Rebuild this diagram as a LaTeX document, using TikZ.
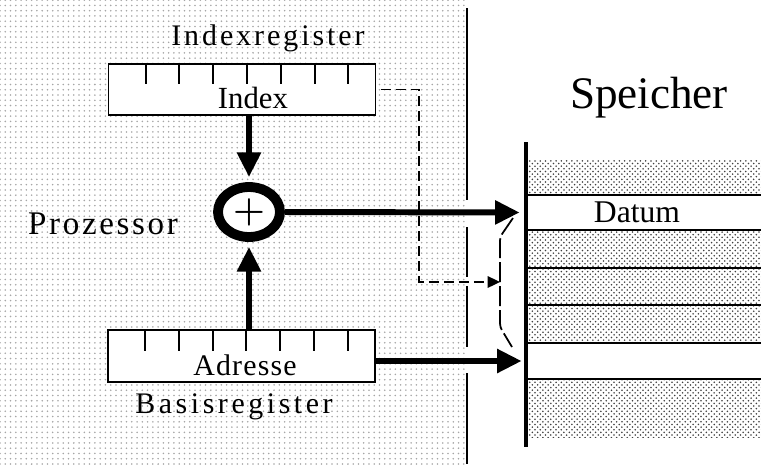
\documentclass[tikz,border=0pt]{standalone}
\usepackage{fontspec}
\setmainfont{Liberation Serif}
\usetikzlibrary{arrows.meta, shapes.geometric, calc, patterns}
\tikzset{
  regbox/.style={
    rectangle,
    draw,
    fill=white,
    line width=1.1pt,
    minimum width=5.34cm,
    minimum height=1.03cm,
    inner sep=0pt
  },
  adder/.style={
    ellipse,
    draw,
    fill=white,
    line width=5.6pt,
    minimum width=1.24cm,
    minimum height=1.0cm,
    inner sep=0pt,
    font=\fontsize{20}{20}\selectfont\boldmath
  },
  cell/.style={
    rectangle,
    minimum width=4.7cm,
    minimum height=0.72cm,
    inner sep=0pt
  },
  label/.style={anchor=base, inner sep=0pt},
  tick/.style={line width=1.1pt},
  divider/.style={line width=1.2pt},
  memline/.style={line width=1.5pt},
  procdots/.style={pattern=dots, pattern color=black!35},
  memdots/.style={pattern=crosshatch dots, pattern color=black!75},
  bigarrow/.style={-{Triangle[length=14pt, width=13pt]}, line width=3.4pt},
  dasharrow/.style={-{Triangle[length=7pt, width=6.5pt]}, line width=1.1pt,
    dash pattern=on 0.2cm off 0.1cm},
  bracket/.style={line width=1pt, dash pattern=on 0.4cm off 0.08cm}
}

\begin{document}
\begin{tikzpicture}[x=0.02cm, y=-0.02cm]
  \useasboundingbox (0,0) rectangle (761,464);

  % Prozessor
  \fill[procdots] (0,0) rectangle (467,464);
  \draw[divider] (467,8) -- (467,200);
  \draw[divider] (467,227) -- (467,277);
  \draw[divider] (467,286) -- (467,347);
  \draw[divider] (467,373) -- (467,464);

  \node[regbox] (indexreg) at (242,89.5) {};
  \node[regbox] (basisreg) at (241.5,356) {};
  \foreach \i in {0,...,6} {
    \draw[tick] ($(indexreg.north west)+(38+33.8*\i,0)$) -- ++(0,21);
    \draw[tick] ($(basisreg.north west)+(38+33.8*\i,0)$) -- ++(0,22);
  }
  \node[adder] (sum) at (249,212) {$+$};

  \node[label, font=\fontsize{17}{18}\selectfont\addfontfeatures{LetterSpace=10}] (indextitle) at (268,45) {Indexregister};
  \node[label, font=\fontsize{17.5}{18}\selectfont] (indextext) at (253,108) {Index};
  \node[label, font=\fontsize{18.8}{20}\selectfont\addfontfeatures{LetterSpace=8}] (cpu) at (103,234) {Prozessor};
  \node[label, font=\fontsize{17}{18}\selectfont\addfontfeatures{LetterSpace=4}] (adrtext) at (245,375) {Adresse};
  \node[label, font=\fontsize{17}{18}\selectfont\addfontfeatures{LetterSpace=12}] (basistitle) at (234,413) {Basisregister};

  % Speicher
  \fill[memdots] (526,160) rectangle (761,195);
  \fill[memdots] (526,230) rectangle (761,343);
  \fill[memdots] (526,379) rectangle (761,437);
  \foreach \y in {195,230,268,305,343,379}
    \draw[memline] (526,\y) -- (761,\y);
  \draw[line width=1.8pt] (526,142) -- (526,447);
  \node[cell] (datum) at (643.5,212.5) {};
  \node[cell] (adrcell) at (643.5,361) {};
  \node[label, font=\fontsize{25.7}{28}\selectfont] (mem) at (649,108) {Speicher};
  \node[label, font=\fontsize{18}{18}\selectfont] (datumtext) at (637,222) {Datum};

  % Verbindungen
  \draw[bigarrow, shorten >=0.1cm] (indexreg.south -| sum.north) -- (sum.north);
  \draw[bigarrow, shorten >=0.1cm] (basisreg.north -| sum.south) -- (sum.south);
  \draw[bigarrow, shorten >=0.12cm] (sum.east) -- (datum.west);
  \draw[bigarrow, shorten >=0.08cm] (basisreg.east |- adrcell.west) -- (adrcell.west);

  \draw[bracket, rounded corners=2pt] (513,218) -- (500,237) -- (500,327) -- (512,347);
  \coordinate (offset) at (500,282);
  \draw[dasharrow] ([xshift=0.1cm]indexreg.east) -- ++(38,0) |- (offset);
\end{tikzpicture}
\end{document}
